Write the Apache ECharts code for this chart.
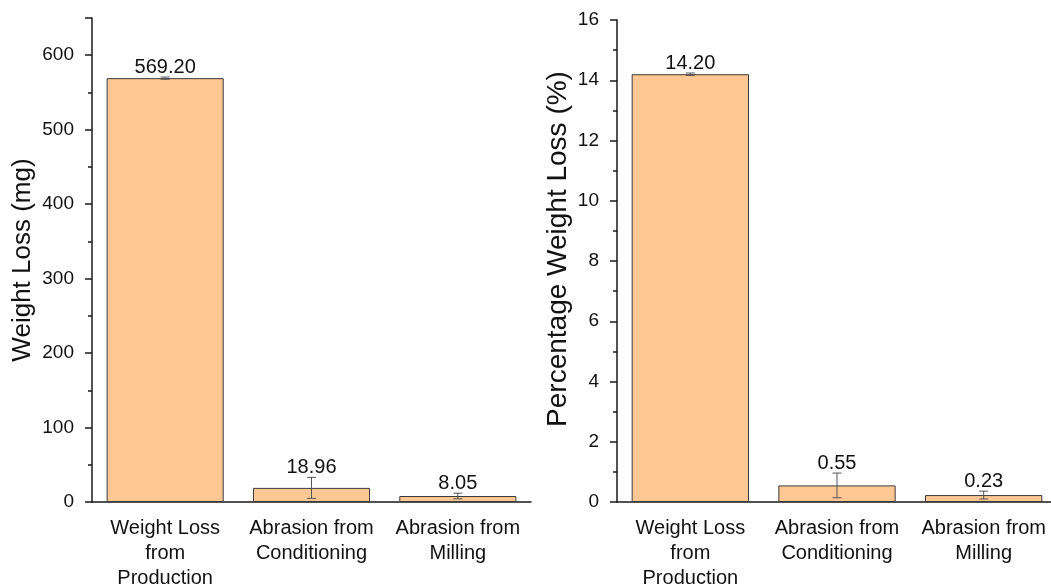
<!DOCTYPE html>
<html>
<head>
<meta charset="utf-8">
<script src="https://cdn.jsdelivr.net/npm/echarts@6/dist/echarts.min.js"></script>
<style>
html,body{margin:0;padding:0;background:#fff;}
#chart{width:1051px;height:588px;}
</style>
</head>
<body>
<div id="chart"></div>
<script>
const categories = ['Weight Loss\nfrom\nProduction', 'Abrasion from\nConditioning', 'Abrasion from\nMilling'];
const massLoss = [569.20, 18.96, 8.05];
const massErr = [1.5, 14.1, 3.8];
const pctLoss = [14.20, 0.55, 0.23];
const pctErr = [0.04, 0.41, 0.13];
const massTicks = {min: 0, max: 650, interval: 100};
const pctTicks = {min: 0, max: 16, interval: 2};

const FONT = 'Liberation Sans, Arial, sans-serif';
const AXIS_COLOR = '#1a1a1a';
const BAR_COLOR = '#FEC794';

const chart = echarts.init(document.getElementById('chart'), null, {renderer: 'canvas'});

function errRender(params, api) {
  const x = api.value(0), v = api.value(1), e = api.value(2);
  const hi = api.coord([x, v + e]);
  const lo = api.coord([x, v - e]);
  const hw = 4.5;
  const st = {stroke: '#555', lineWidth: 1};
  return {
    type: 'group',
    children: [
      {type: 'line', shape: {x1: hi[0], y1: hi[1], x2: lo[0], y2: lo[1]}, style: st},
      {type: 'line', shape: {x1: hi[0] - hw, y1: hi[1], x2: hi[0] + hw, y2: hi[1]}, style: st},
      {type: 'line', shape: {x1: lo[0] - hw, y1: lo[1], x2: lo[0] + hw, y2: lo[1]}, style: st},
      {type: 'text', style: {text: v.toFixed(2), x: hi[0], y: hi[1], align: 'center', verticalAlign: 'bottom', font: '20px ' + FONT, fill: '#111'}}
    ]
  };
}

function xAxes(gridIndex) {
  return [
    {
      type: 'category', gridIndex: gridIndex, data: categories,
      axisLine: {lineStyle: {color: AXIS_COLOR, width: 1.5}},
      axisTick: {alignWithLabel: true, length: 8, lineStyle: {color: AXIS_COLOR, width: 1.5}},
      axisLabel: {color: '#111', fontSize: 20, fontFamily: FONT, lineHeight: 25, margin: 14, interval: 0}
    },
    {
      type: 'category', gridIndex: gridIndex, data: categories, position: 'bottom',
      axisLine: {show: false},
      axisTick: {alignWithLabel: false, length: 4, lineStyle: {color: AXIS_COLOR, width: 1.5}},
      axisLabel: {show: false}
    }
  ];
}

function yAxis(gridIndex, name, t, gap, nameSize, namePad, showMax) {
  return {
    type: 'value', gridIndex: gridIndex, min: t.min, max: t.max, interval: t.interval,
    name: name, nameLocation: 'middle', nameGap: gap,
    nameTextStyle: {color: '#111', fontSize: nameSize, fontFamily: FONT, padding: namePad},
    axisLine: {show: true, lineStyle: {color: AXIS_COLOR, width: 1.5}},
    axisTick: {show: true, length: 7, lineStyle: {color: AXIS_COLOR, width: 1.5}},
    minorTick: {show: true, splitNumber: 2, length: 4, lineStyle: {color: AXIS_COLOR, width: 1.5}},
    splitLine: {show: false},
    axisLabel: {color: '#111', fontSize: 19, fontFamily: FONT, margin: 18, showMaxLabel: showMax}
  };
}

const option = {
  backgroundColor: '#fff',
  animation: false,
  grid: [
    {left: 92, top: 18, width: 439, height: 484, outerBoundsMode: 'none', containLabel: false},
    {left: 617, top: 20, width: 440, height: 482, outerBoundsMode: 'none', containLabel: false}
  ],
  xAxis: xAxes(0).concat(xAxes(1)),
  yAxis: [
    yAxis(0, 'Weight Loss (mg)', massTicks, 56, 26, [0, 0, 0, 0], false),
    yAxis(1, 'Percentage Weight Loss (%)', pctTicks, 45, 28, [0, 0, 0, 24], true)
  ],
  series: [
    {type: 'bar', xAxisIndex: 0, yAxisIndex: 0, data: massLoss, barWidth: '80%',
     itemStyle: {color: BAR_COLOR, borderColor: '#3a3a3a', borderWidth: 1}},
    {type: 'custom', xAxisIndex: 0, yAxisIndex: 0, renderItem: errRender,
     data: massLoss.map((v, i) => [i, v, massErr[i]]), z: 5},
    {type: 'bar', xAxisIndex: 2, yAxisIndex: 1, data: pctLoss, barWidth: '80%',
     itemStyle: {color: BAR_COLOR, borderColor: '#3a3a3a', borderWidth: 1}},
    {type: 'custom', xAxisIndex: 2, yAxisIndex: 1, renderItem: errRender,
     data: pctLoss.map((v, i) => [i, v, pctErr[i]]), z: 5}
  ]
};
chart.setOption(option);
</script>
</body>
</html>
